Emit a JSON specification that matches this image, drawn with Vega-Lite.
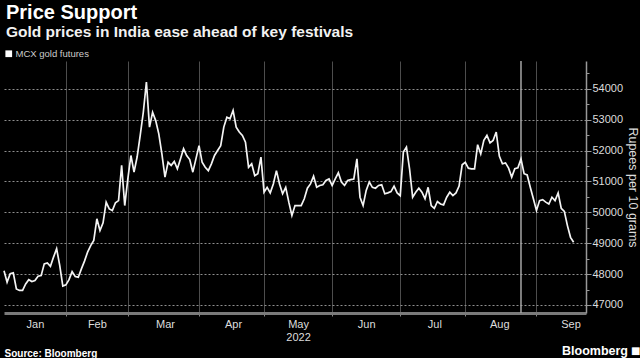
{
  "$schema": "https://vega.github.io/schema/vega-lite/v6.json",
  "width": 582,
  "height": 252,
  "padding": {"left": 0, "top": 2, "right": 0, "bottom": 0},
  "background": "#000000",
  "config": {
    "view": {"stroke": null},
    "font": "Liberation Sans",
    "axis": {"labelFont": "Liberation Sans", "titleFont": "Liberation Sans"}
  },
  "title": {
    "text": "Price Support",
    "subtitle": "Gold prices in India ease ahead of key festivals",
    "anchor": "start",
    "frame": "group",
    "dx": 2,
    "font": "Liberation Sans",
    "fontSize": 20,
    "fontWeight": "bold",
    "color": "#ffffff",
    "subtitleFont": "Liberation Sans",
    "subtitleFontSize": 15.5,
    "subtitleFontWeight": "bold",
    "subtitleColor": "#f2f2f2",
    "subtitlePadding": 2,
    "offset": 9
  },
  "datasets": {
    "gold": [
      {"date": "2022-01-03", "price": 48110}, {"date": "2022-01-04", "price": 47740}, {"date": "2022-01-05", "price": 48010}, {"date": "2022-01-06", "price": 48040}, {"date": "2022-01-07", "price": 47520},
      {"date": "2022-01-10", "price": 47470}, {"date": "2022-01-11", "price": 47470}, {"date": "2022-01-12", "price": 47680}, {"date": "2022-01-13", "price": 47820}, {"date": "2022-01-14", "price": 47760},
      {"date": "2022-01-17", "price": 47790}, {"date": "2022-01-18", "price": 47930}, {"date": "2022-01-19", "price": 47950}, {"date": "2022-01-20", "price": 48330}, {"date": "2022-01-21", "price": 48360},
      {"date": "2022-01-24", "price": 48250}, {"date": "2022-01-25", "price": 48550}, {"date": "2022-01-26", "price": 48820}, {"date": "2022-01-27", "price": 48280}, {"date": "2022-01-28", "price": 47610},
      {"date": "2022-01-31", "price": 47650},
      {"date": "2022-02-01", "price": 47820}, {"date": "2022-02-02", "price": 48080}, {"date": "2022-02-03", "price": 47920}, {"date": "2022-02-04", "price": 47900},
      {"date": "2022-02-07", "price": 48170}, {"date": "2022-02-08", "price": 48420}, {"date": "2022-02-09", "price": 48710}, {"date": "2022-02-10", "price": 48920}, {"date": "2022-02-11", "price": 49090},
      {"date": "2022-02-14", "price": 49790}, {"date": "2022-02-15", "price": 49410}, {"date": "2022-02-16", "price": 49660}, {"date": "2022-02-17", "price": 50330}, {"date": "2022-02-18", "price": 50110},
      {"date": "2022-02-21", "price": 50060}, {"date": "2022-02-22", "price": 50310}, {"date": "2022-02-23", "price": 50380}, {"date": "2022-02-24", "price": 51520}, {"date": "2022-02-25", "price": 50220},
      {"date": "2022-02-28", "price": 51080},
      {"date": "2022-03-01", "price": 51840}, {"date": "2022-03-02", "price": 51300}, {"date": "2022-03-03", "price": 51790}, {"date": "2022-03-04", "price": 52490},
      {"date": "2022-03-07", "price": 53240}, {"date": "2022-03-08", "price": 54220}, {"date": "2022-03-09", "price": 52760}, {"date": "2022-03-10", "price": 53240}, {"date": "2022-03-11", "price": 52970},
      {"date": "2022-03-14", "price": 52540}, {"date": "2022-03-15", "price": 51890}, {"date": "2022-03-16", "price": 51140}, {"date": "2022-03-17", "price": 51620}, {"date": "2022-03-18", "price": 51520},
      {"date": "2022-03-21", "price": 51650}, {"date": "2022-03-22", "price": 51410}, {"date": "2022-03-23", "price": 51730}, {"date": "2022-03-24", "price": 52060}, {"date": "2022-03-25", "price": 51840},
      {"date": "2022-03-28", "price": 51710}, {"date": "2022-03-29", "price": 51300}, {"date": "2022-03-30", "price": 51730}, {"date": "2022-03-31", "price": 52160},
      {"date": "2022-04-01", "price": 51620},
      {"date": "2022-04-04", "price": 51460}, {"date": "2022-04-05", "price": 51350}, {"date": "2022-04-06", "price": 51570}, {"date": "2022-04-07", "price": 51840}, {"date": "2022-04-08", "price": 52000},
      {"date": "2022-04-11", "price": 52160}, {"date": "2022-04-12", "price": 52760}, {"date": "2022-04-13", "price": 53080}, {"date": "2022-04-14", "price": 53030}, {"date": "2022-04-15", "price": 53300},
      {"date": "2022-04-18", "price": 52760}, {"date": "2022-04-19", "price": 52600}, {"date": "2022-04-20", "price": 52490}, {"date": "2022-04-21", "price": 52270}, {"date": "2022-04-22", "price": 51460},
      {"date": "2022-04-25", "price": 51570}, {"date": "2022-04-26", "price": 51190}, {"date": "2022-04-27", "price": 51250}, {"date": "2022-04-28", "price": 51790}, {"date": "2022-04-29", "price": 50650},
      {"date": "2022-05-02", "price": 50810}, {"date": "2022-05-03", "price": 50630}, {"date": "2022-05-04", "price": 50920}, {"date": "2022-05-05", "price": 51350}, {"date": "2022-05-06", "price": 50920},
      {"date": "2022-05-09", "price": 50600}, {"date": "2022-05-10", "price": 50810}, {"date": "2022-05-11", "price": 50330}, {"date": "2022-05-12", "price": 49900}, {"date": "2022-05-13", "price": 50220},
      {"date": "2022-05-16", "price": 50220}, {"date": "2022-05-17", "price": 50220}, {"date": "2022-05-18", "price": 50440}, {"date": "2022-05-19", "price": 50780}, {"date": "2022-05-20", "price": 50920},
      {"date": "2022-05-23", "price": 51170}, {"date": "2022-05-24", "price": 50810}, {"date": "2022-05-25", "price": 50870}, {"date": "2022-05-26", "price": 50890}, {"date": "2022-05-27", "price": 51030},
      {"date": "2022-05-30", "price": 51080}, {"date": "2022-05-31", "price": 50870},
      {"date": "2022-06-01", "price": 51080}, {"date": "2022-06-02", "price": 51280}, {"date": "2022-06-03", "price": 50980},
      {"date": "2022-06-06", "price": 50870}, {"date": "2022-06-07", "price": 51030}, {"date": "2022-06-08", "price": 51060}, {"date": "2022-06-09", "price": 51080}, {"date": "2022-06-10", "price": 51730},
      {"date": "2022-06-13", "price": 50490}, {"date": "2022-06-14", "price": 50220}, {"date": "2022-06-15", "price": 50710}, {"date": "2022-06-16", "price": 50980}, {"date": "2022-06-17", "price": 50810},
      {"date": "2022-06-20", "price": 50780}, {"date": "2022-06-21", "price": 50870}, {"date": "2022-06-22", "price": 50890}, {"date": "2022-06-23", "price": 50600}, {"date": "2022-06-24", "price": 50630},
      {"date": "2022-06-27", "price": 50670}, {"date": "2022-06-28", "price": 50850}, {"date": "2022-06-29", "price": 50630}, {"date": "2022-06-30", "price": 50540},
      {"date": "2022-07-01", "price": 51950},
      {"date": "2022-07-04", "price": 52110}, {"date": "2022-07-05", "price": 51410}, {"date": "2022-07-06", "price": 50490}, {"date": "2022-07-07", "price": 50650}, {"date": "2022-07-08", "price": 50780},
      {"date": "2022-07-11", "price": 50650}, {"date": "2022-07-12", "price": 50440}, {"date": "2022-07-13", "price": 50810}, {"date": "2022-07-14", "price": 50220}, {"date": "2022-07-15", "price": 50130},
      {"date": "2022-07-18", "price": 50350}, {"date": "2022-07-19", "price": 50270}, {"date": "2022-07-20", "price": 50240}, {"date": "2022-07-21", "price": 50490}, {"date": "2022-07-22", "price": 50650},
      {"date": "2022-07-25", "price": 50540}, {"date": "2022-07-26", "price": 50630}, {"date": "2022-07-27", "price": 50850}, {"date": "2022-07-28", "price": 51540}, {"date": "2022-07-29", "price": 51620},
      {"date": "2022-08-01", "price": 51430}, {"date": "2022-08-02", "price": 51410}, {"date": "2022-08-03", "price": 51410}, {"date": "2022-08-04", "price": 52190}, {"date": "2022-08-05", "price": 51890},
      {"date": "2022-08-08", "price": 52330}, {"date": "2022-08-09", "price": 52490}, {"date": "2022-08-10", "price": 52250}, {"date": "2022-08-11", "price": 52330}, {"date": "2022-08-12", "price": 52600},
      {"date": "2022-08-15", "price": 51820}, {"date": "2022-08-16", "price": 51570}, {"date": "2022-08-17", "price": 51600}, {"date": "2022-08-18", "price": 51430}, {"date": "2022-08-19", "price": 51140},
      {"date": "2022-08-22", "price": 51410}, {"date": "2022-08-23", "price": 51440}, {"date": "2022-08-24", "price": 51730}, {"date": "2022-08-25", "price": 51250}, {"date": "2022-08-26", "price": 51210},
      {"date": "2022-08-29", "price": 50810}, {"date": "2022-08-30", "price": 50440}, {"date": "2022-08-31", "price": 50060},
      {"date": "2022-09-01", "price": 50380}, {"date": "2022-09-02", "price": 50410},
      {"date": "2022-09-05", "price": 50330}, {"date": "2022-09-06", "price": 50270}, {"date": "2022-09-07", "price": 50490}, {"date": "2022-09-08", "price": 50380}, {"date": "2022-09-09", "price": 50630},
      {"date": "2022-09-12", "price": 50130}, {"date": "2022-09-13", "price": 50030}, {"date": "2022-09-14", "price": 49570}, {"date": "2022-09-15", "price": 49190}, {"date": "2022-09-16", "price": 49030}
    ]
  },
  "encoding": {
    "x": {
      "field": "date",
      "type": "ordinal",
      "scale": {
        "type": "point",
        "padding": 0,
        "domain": [
          "2022-01-03","2022-01-04","2022-01-05","2022-01-06","2022-01-07","2022-01-10","2022-01-11","2022-01-12","2022-01-13","2022-01-14","2022-01-17","2022-01-18","2022-01-19","2022-01-20","2022-01-21","2022-01-24","2022-01-25","2022-01-26","2022-01-27","2022-01-28","2022-01-31",
          "2022-02-01","2022-02-02","2022-02-03","2022-02-04","2022-02-07","2022-02-08","2022-02-09","2022-02-10","2022-02-11","2022-02-14","2022-02-15","2022-02-16","2022-02-17","2022-02-18","2022-02-21","2022-02-22","2022-02-23","2022-02-24","2022-02-25","2022-02-28",
          "2022-03-01","2022-03-02","2022-03-03","2022-03-04","2022-03-07","2022-03-08","2022-03-09","2022-03-10","2022-03-11","2022-03-14","2022-03-15","2022-03-16","2022-03-17","2022-03-18","2022-03-21","2022-03-22","2022-03-23","2022-03-24","2022-03-25","2022-03-28","2022-03-29","2022-03-30","2022-03-31",
          "2022-04-01","2022-04-04","2022-04-05","2022-04-06","2022-04-07","2022-04-08","2022-04-11","2022-04-12","2022-04-13","2022-04-14","2022-04-15","2022-04-18","2022-04-19","2022-04-20","2022-04-21","2022-04-22","2022-04-25","2022-04-26","2022-04-27","2022-04-28","2022-04-29",
          "2022-05-02","2022-05-03","2022-05-04","2022-05-05","2022-05-06","2022-05-09","2022-05-10","2022-05-11","2022-05-12","2022-05-13","2022-05-16","2022-05-17","2022-05-18","2022-05-19","2022-05-20","2022-05-23","2022-05-24","2022-05-25","2022-05-26","2022-05-27","2022-05-30","2022-05-31",
          "2022-06-01","2022-06-02","2022-06-03","2022-06-06","2022-06-07","2022-06-08","2022-06-09","2022-06-10","2022-06-13","2022-06-14","2022-06-15","2022-06-16","2022-06-17","2022-06-20","2022-06-21","2022-06-22","2022-06-23","2022-06-24","2022-06-27","2022-06-28","2022-06-29","2022-06-30",
          "2022-07-01","2022-07-04","2022-07-05","2022-07-06","2022-07-07","2022-07-08","2022-07-11","2022-07-12","2022-07-13","2022-07-14","2022-07-15","2022-07-18","2022-07-19","2022-07-20","2022-07-21","2022-07-22","2022-07-25","2022-07-26","2022-07-27","2022-07-28","2022-07-29",
          "2022-08-01","2022-08-02","2022-08-03","2022-08-04","2022-08-05","2022-08-08","2022-08-09","2022-08-10","2022-08-11","2022-08-12","2022-08-15","2022-08-16","2022-08-17","2022-08-18","2022-08-19","2022-08-22","2022-08-23","2022-08-24","2022-08-25","2022-08-26","2022-08-29","2022-08-30","2022-08-31",
          "2022-09-01","2022-09-02","2022-09-05","2022-09-06","2022-09-07","2022-09-08","2022-09-09","2022-09-12","2022-09-13","2022-09-14","2022-09-15","2022-09-16","2022-09-19","2022-09-20","2022-09-21","2022-09-22"
        ]
      },
      "axis": {
        "title": "Source: Bloomberg",
        "titleAnchor": "start",
        "titleAlign": "left",
        "titleFontSize": 10,
        "titleFontWeight": "bold",
        "titleColor": "#ffffff",
        "titlePadding": 6,
        "values": ["2022-01-17","2022-01-31","2022-02-14","2022-02-28","2022-03-16","2022-03-31","2022-04-15","2022-04-29","2022-05-16","2022-05-31","2022-06-15","2022-06-30","2022-07-15","2022-07-29","2022-08-15","2022-08-31","2022-09-15"],
        "labelExpr": "indexof(['2022-01-17','2022-02-14','2022-03-16','2022-04-15','2022-05-16','2022-06-15','2022-07-15','2022-08-15','2022-09-15'], datum.value) >= 0 ? (datum.value == '2022-05-16' ? ['May', '2022'] : utcFormat(toDate(datum.value), '%b')) : ''",
        "labelAngle": 0,
        "labelColor": "#dddddd",
        "labelFontSize": 11,
        "labelPadding": 2,
        "labelLineHeight": 13,
        "labelOverlap": false,
        "grid": true,
        "gridColor": "#4d4d4d",
        "gridWidth": 1,
        "gridOpacity": {"condition": {"test": "indexof(['2022-01-31','2022-02-28','2022-03-31','2022-04-29','2022-05-31','2022-06-30','2022-07-29','2022-08-31'], datum.value) >= 0", "value": 1}, "value": 0},
        "ticks": true,
        "tickSize": 3,
        "tickColor": "#888888",
        "tickOpacity": {"condition": {"test": "indexof(['2022-01-31','2022-02-28','2022-03-31','2022-04-29','2022-05-31','2022-06-30','2022-07-29','2022-08-31'], datum.value) >= 0", "value": 1}, "value": 0},
        "domainColor": "#7a7a7a",
        "domainWidth": 3
      }
    }
  },
  "layer": [
    {
      "data": {"values": [{"date": "2022-08-24"}]},
      "mark": {"type": "rule", "color": "#a6a6a6", "strokeWidth": 1.5},
      "encoding": {}
    },
    {
      "data": {"name": "gold"},
      "mark": {"type": "line", "strokeWidth": 1.7, "interpolate": "linear"},
      "encoding": {
        "y": {
          "field": "price",
          "type": "quantitative",
          "scale": {"domain": [46740, 54900], "zero": false, "nice": false},
          "axis": {
            "orient": "right",
            "title": "Rupees per 10 grams",
            "titleColor": "#dddddd",
            "titleFontSize": 12.5,
            "titleFontWeight": "normal",
            "titlePadding": 3,
            "values": [47000, 47500, 48000, 48500, 49000, 49500, 50000, 50500, 51000, 51500, 52000, 52500, 53000, 53500, 54000, 54500],
            "tickCount": 40,
            "format": "d",
            "labelExpr": "datum.value % 1000 == 0 ? datum.label : ''",
            "labelOverlap": false,
            "labelColor": "#dddddd",
            "labelFontSize": 11,
            "labelPadding": 1,
            "grid": true,
            "gridColor": "#8f8f8f",
            "gridDash": [2, 2],
            "gridOpacity": {"condition": {"test": "datum.value % 1000 == 0", "value": 1}, "value": 0},
            "tickColor": "#999999",
            "tickSize": {"condition": {"test": "datum.value % 1000 == 0", "value": 5}, "value": 3},
            "domainColor": "#999999",
            "domainWidth": 1.5
          }
        },
        "color": {
          "datum": "MCX gold futures",
          "scale": {"range": ["#f4f4f4"]},
          "legend": {
            "orient": "top",
            "title": null,
            "symbolType": "square",
            "symbolSize": 45,
            "symbolFillColor": "#ffffff",
            "symbolStrokeColor": "#ffffff",
            "symbolStrokeWidth": 0,
            "labelColor": "#cccccc",
            "labelFontSize": 9.5,
            "labelOffset": 2,
            "offset": 2,
            "padding": 0
          }
        }
      }
    },
    {
      "data": {"values": [{"date": "2022-09-22", "brand": "Bloomberg", "icon": "■"}]},
      "layer": [
        {
          "mark": {"type": "text", "align": "right", "baseline": "middle", "dx": 42, "fontSize": 12.5, "fontWeight": "bold", "color": "#ffffff", "font": "Liberation Sans"},
          "encoding": {
            "y": {"datum": 45500, "type": "quantitative"},
            "text": {"field": "brand"}
          }
        },
        {
          "mark": {"type": "text", "align": "left", "baseline": "middle", "dx": 45, "fontSize": 10, "color": "#ffffff", "font": "DejaVu Sans"},
          "encoding": {
            "y": {"datum": 45500, "type": "quantitative"},
            "text": {"field": "icon"}
          }
        }
      ]
    }
  ]
}
